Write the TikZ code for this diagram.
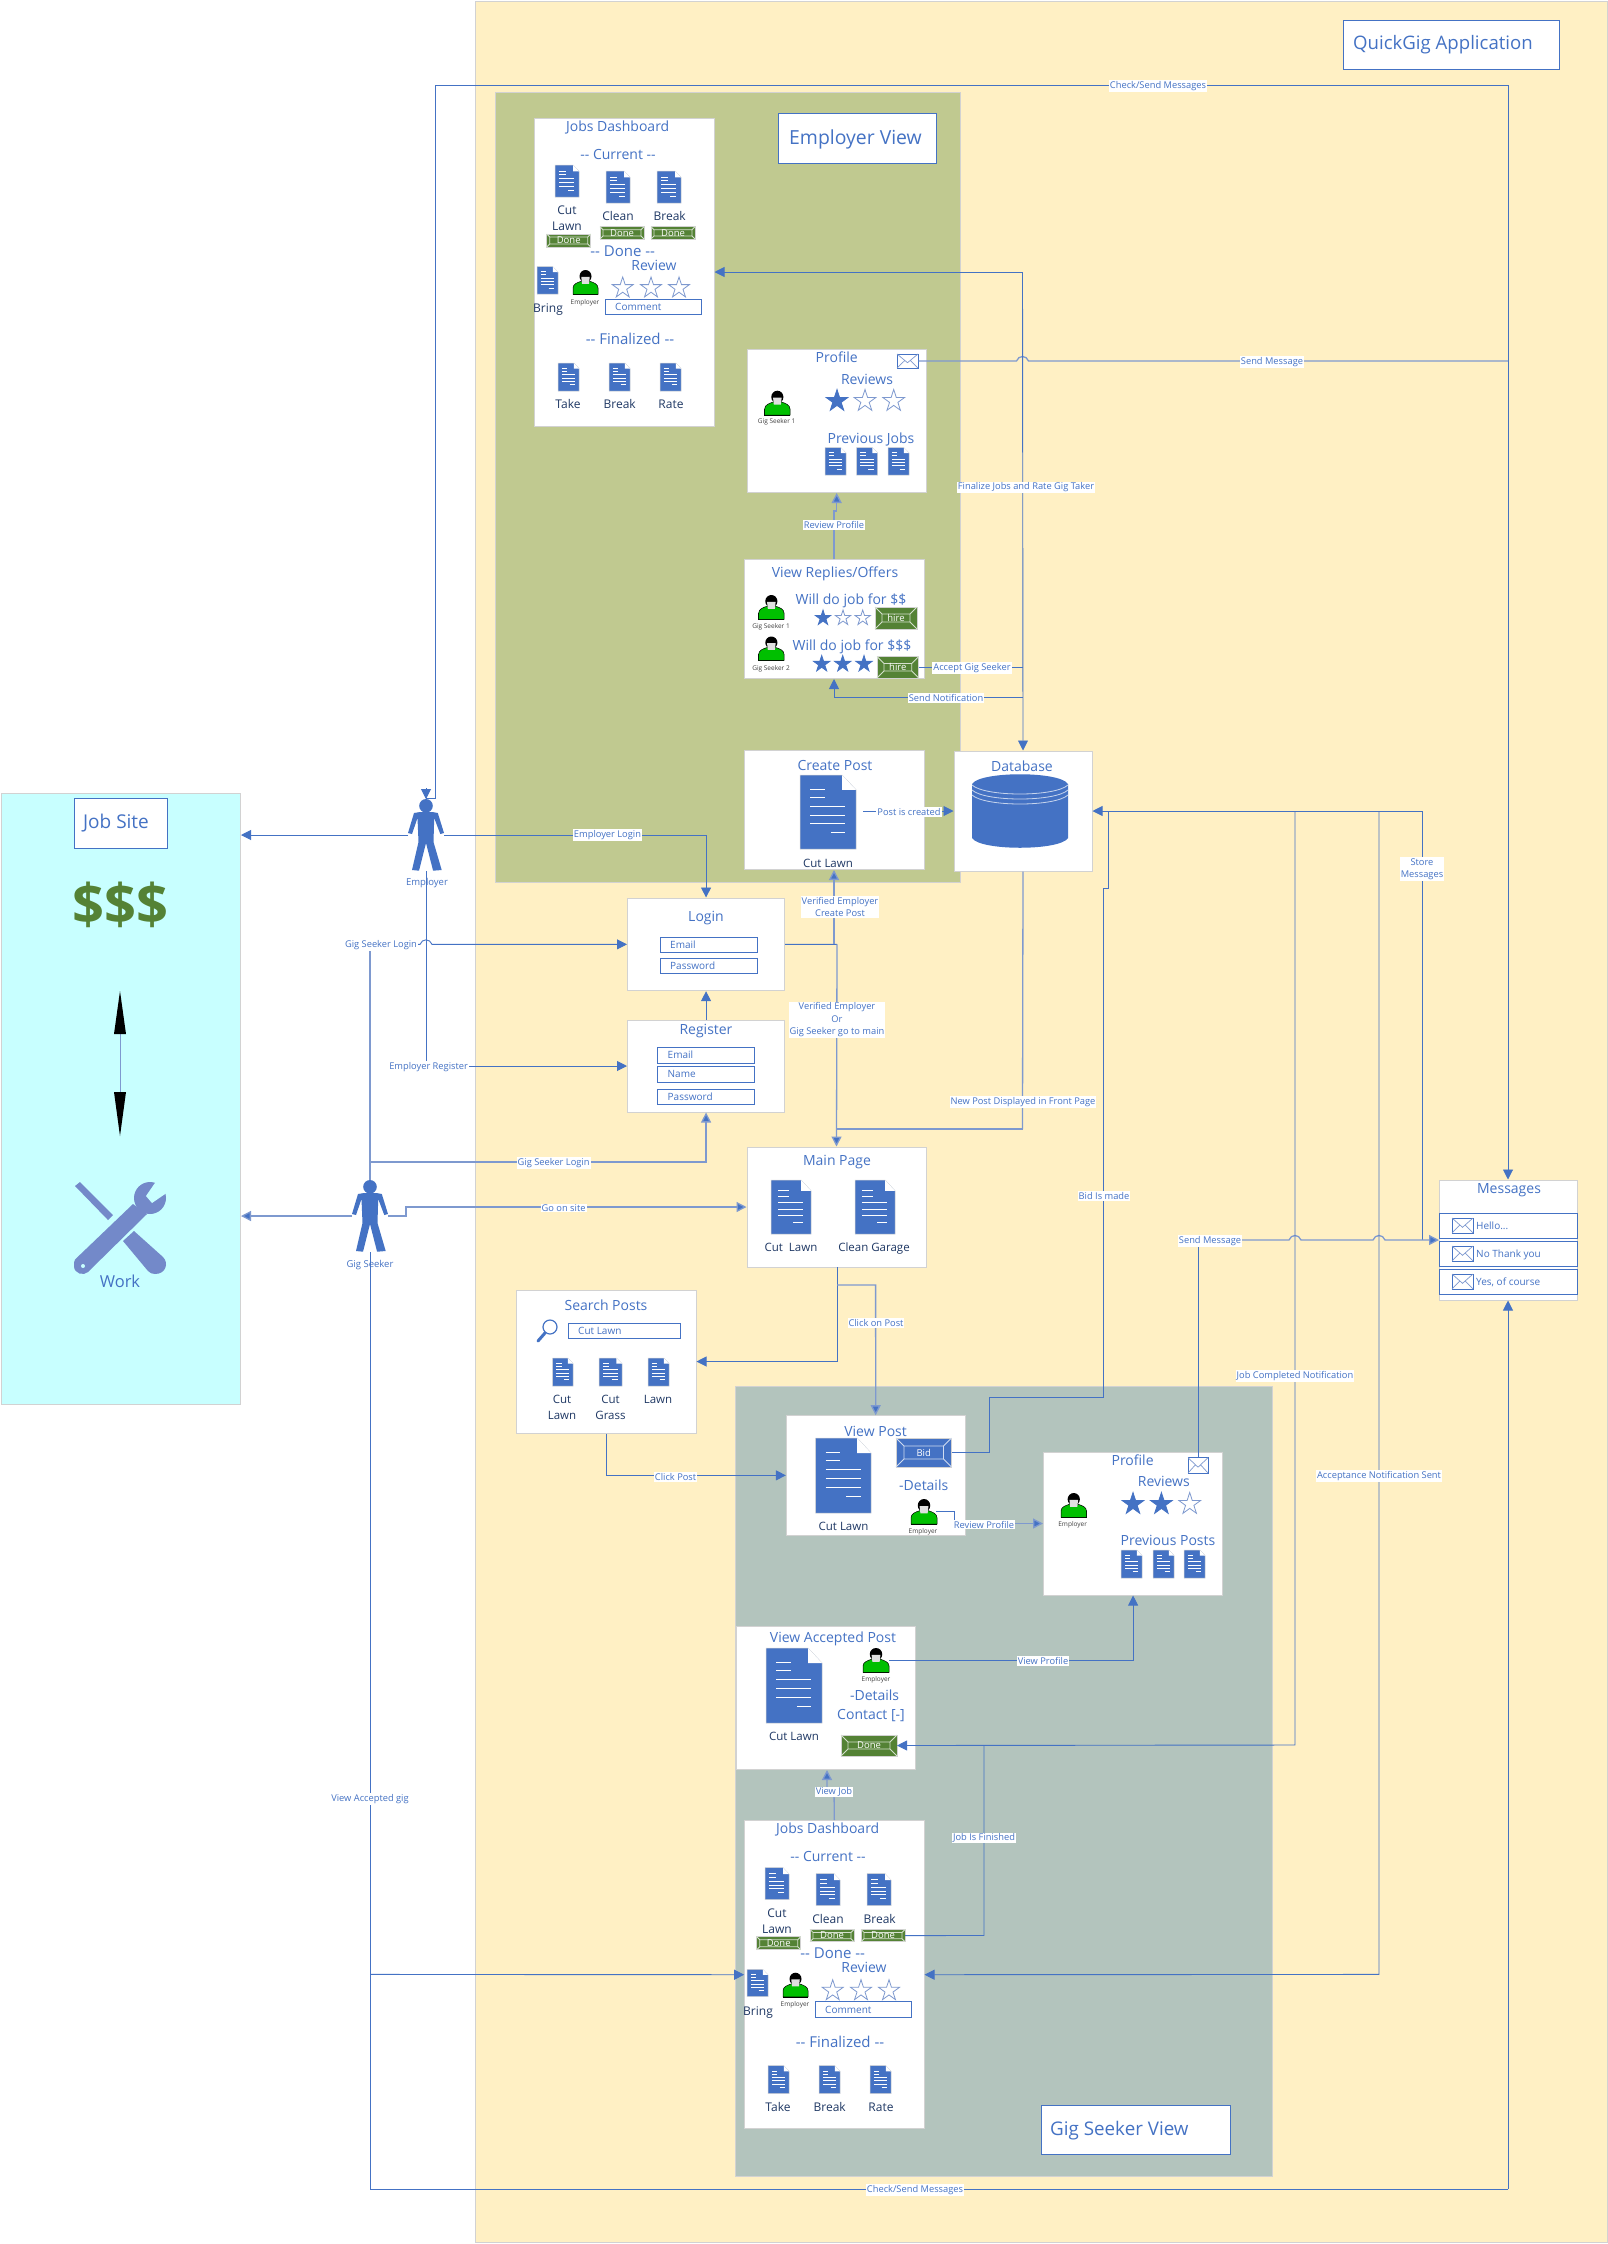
\documentclass[tikz,border=0pt]{standalone}
\usepackage{fontspec}
\setmainfont{Open Sans}
\usetikzlibrary{arrows.meta}
\definecolor{bl}{HTML}{4472C4}
\definecolor{bll}{HTML}{7E99CF}
\definecolor{navy}{HTML}{1F3864}
\definecolor{appbg}{HTML}{FFF0C4}
\definecolor{empbg}{HTML}{C0C990}
\definecolor{gigbg}{HTML}{B3C4BD}
\definecolor{sitebg}{HTML}{C8FFFF}
\definecolor{grn}{HTML}{548235}
\definecolor{wr}{HTML}{7389C9}
\definecolor{edge}{HTML}{D2D2D2}
\tikzset{
  panelbox/.style={draw=edge,fill=white,line width=1pt,inner sep=0pt},
  areabox/.style={draw=edge,line width=1pt,inner sep=0pt},
  titlebox/.style={draw=bl,fill=white,line width=1pt,inner sep=0pt},
  fieldbox/.style={draw=bl,fill=white,line width=.9pt,inner sep=0pt},
  ghost/.style={inner sep=0pt,outer sep=0pt},
  conn/.style={draw=bl,line width=.9pt},
  connl/.style={draw=bll,line width=1.3pt},
  tip/.style={-{Triangle[length=10pt,width=10pt,fill=bl]}},
  arr/.style={conn,tip},
  arrl/.style={connl,tip},
  lab/.style={fill=white,text=bl,inner sep=1pt,align=center,yshift=-1pt,font=\fontsize{9.3}{12.5}\selectfont},
  ttext/.style={text=bl,inner sep=0pt,align=center},
}
\newcounter{tn}
\newcommand\Txt[5][]{\stepcounter{tn}\node[ttext,anchor=base,#1] (t\arabic{tn}) at (#2,{#3+.36*#4}) {\fontsize{#4}{#4}\selectfont #5};}
\newcommand\Lab[3]{\stepcounter{tn}\node[lab] (t\arabic{tn}) at (#1,#2) {#3};}
% rectangle node from corners: style, name, x1,y1,x2,y2
\newcommand\Pnl[6]{\node[#1,minimum width={(#5-#3)*1pt},minimum height={(#6-#4)*1pt}] (#2) at ({(#3+#5)/2},{(#4+#6)/2}) {};}
% document icon
\newcommand\Doc[4]{\begin{scope}[shift={(#1,#2)},xscale={#3-#1},yscale={#4-#2}]
  \fill[bl,draw=edge,line width=.5pt] (0,0) -- (.75,0) -- (1,.2) -- (1,1) -- (0,1) -- cycle;
  \fill[white] (.75,0) -- (1,.2) -- (.75,.2) -- cycle;
  \draw[white,line width=.8pt] (.18,.19) -- (.44,.19) (.18,.30) -- (.44,.30) (.18,.42) -- (.81,.42) (.18,.54) -- (.81,.54) (.18,.66) -- (.81,.66) (.55,.78) -- (.81,.78);
\end{scope}}
% green person icon
\newcommand\Person[4]{\begin{scope}[shift={(#1,#2)},xscale={#3-#1},yscale={#4-#2}]
  \fill[black] (-.01,.72) rectangle (1.01,1);
  \fill[green!75!black,draw=black,line width=.5pt] (0,.97) -- (0,.72) .. controls (0,.56) and (.18,.5) .. (.33,.45) -- (.67,.45) .. controls (.82,.5) and (1,.56) .. (1,.72) -- (1,.97) -- cycle;
  \fill[black] (.5,.25) ellipse[x radius=.24,y radius=.25];
  \fill[gray!25] (.33,.27) -- (.67,.27) -- (.64,.55) -- (.36,.55) -- cycle;
\end{scope}}
% star: cx cy r style
\newcommand\Star[4]{\begin{scope}[shift={(#1,#2)},scale=#3]
  \draw[line width=.8pt,#4] (0,-1) -- (.225,-.309) -- (.951,-.309) -- (.363,.118) -- (.588,.809) -- (0,.382) -- (-.588,.809) -- (-.363,.118) -- (-.951,-.309) -- (-.225,-.309) -- cycle;
\end{scope}}
\tikzset{sf/.style={draw=bl,fill=bl},se/.style={draw=bll,fill=white}}
% button: name x1 y1 x2 y2 fill text size inset
\newcommand\Btn[9]{\fill[#6,draw=edge,line width=.8pt] (#2,#3) rectangle (#4,#5);
  \draw[white!75!#6,line width=.8pt] ({#2+#9},{#3+#9}) rectangle ({#4-#9},{#5-#9})
   (#2,#3) -- ({#2+#9},{#3+#9}) (#4,#3) -- ({#4-#9},{#3+#9}) (#2,#5) -- ({#2+#9},{#5-#9}) (#4,#5) -- ({#4-#9},{#5-#9});
  \node[ghost,text=white,minimum width={(#4-#2)*1pt},minimum height={(#5-#3)*1pt}] (#1) at ({(#2+#4)/2},{(#3+#5)/2}) {\fontsize{#8}{#8}\selectfont #7};}
% envelope: name x1 y1 x2 y2
\newcommand\Env[5]{\node[draw=bl,fill=white,line width=1pt,inner sep=0pt,minimum width={(#4-#2)*1pt},minimum height={(#5-#3)*1pt}] (#1) at ({(#2+#4)/2},{(#3+#5)/2}) {};
  \draw[bll,line width=.7pt] (#2,#3) -- ({(#2+#4)/2},{#3+.62*(#5-#3)}) -- (#4,#3) (#2,#5) -- ({#2+.38*(#4-#2)},{#3+.45*(#5-#3)}) (#4,#5) -- ({#4-.38*(#4-#2)},{#3+.45*(#5-#3)});}
% actor: name cx top
\newcommand\Actor[3]{\node[ghost,minimum width=36pt,minimum height=72pt] (#1) at (#2,{#3+36}) {};
  \begin{scope}[shift={(#2,#3)}]
  \fill[bl] (0,6.8) circle[radius=6.8pt];
  \fill[bl] (-12,14) -- (-6,13) -- (6.4,13) -- (11.8,14) -- (18,34) -- (14.3,35) -- (8.2,19) -- (7.5,43) -- (15.7,71) -- (7.1,71.7) -- (0,44) -- (-7,71.7) -- (-14,71) -- (-7.5,43) -- (-8.5,19) -- (-14,35) -- (-18,34) -- cycle;
  \end{scope}}
% line jump bump
\newcommand\hj[2]{-- ({#1-6},#2) .. controls ({#1-4},{#2-6}) and ({#1+4},{#2-6}) .. ({#1+6},#2)}
% jobs dashboard in employer coordinates
\newcommand\Dash[1]{
  \Pnl{panelbox}{#1dash}{534.7}{118}{714}{426}
  \Txt{617.7}{126}{14}{Jobs Dashboard}
  \Txt{618}{154}{14}{-{}- Current -{}-}
  \Doc{555}{165}{579}{197}\Doc{606}{171}{630}{203}\Doc{657}{171}{681}{203}
  \Txt[text=navy]{567}{210}{12}{Cut}\Txt[text=navy]{567}{226}{12}{Lawn}
  \Txt[text=navy]{618}{216}{12}{Clean}\Txt[text=navy]{669.7}{216}{12}{Break}
  \Btn{#1done1}{546.7}{234}{590.7}{247}{grn}{Done}{9.5}{3}
  \Btn{#1done2}{600}{226.7}{644}{239}{grn}{Done}{9.5}{3}
  \Btn{#1done3}{651}{226.7}{695}{239}{grn}{Done}{9.5}{3}
  \Txt{622.7}{250.7}{15}{-{}- Done -{}-}
  \Txt{654}{265}{14}{Review}
  \Doc{537}{266.7}{558}{294}
  \Txt[text=navy]{548}{308}{12}{Bring}
  \Person{573}{270}{598}{295}
  \Txt[text=black!75]{585}{301.7}{6.5}{Employer}
  \Star{622.7}{288}{11}{se}\Star{651}{288}{11}{se}\Star{679}{288}{11}{se}
  \Pnl{fieldbox}{#1comment}{605}{299}{701.7}{314.7}
  \Txt[anchor=base west]{615}{306.8}{10}{Comment}
  \Txt{630}{339}{15}{-{}- Finalized -{}-}
  \Doc{558}{363}{579}{391}\Doc{609}{363}{630}{391}\Doc{660}{363}{681}{391}
  \Txt[text=navy]{568}{404}{12}{Take}\Txt[text=navy]{619.7}{404}{12}{Break}\Txt[text=navy]{671}{404}{12}{Rate}
}
\begin{document}
\begin{tikzpicture}[x=1pt,y=-1pt]
\useasboundingbox (0,0) rectangle (1608,2244);
\fill[white] (0,0) rectangle (1608,2244);
% areas
\Pnl{areabox,fill=appbg}{app}{475}{1}{1607}{2242}
\Pnl{areabox,fill=empbg}{emparea}{495}{92}{960}{882}
\Pnl{areabox,fill=gigbg}{gigarea}{735}{1386}{1272}{2176}
\Pnl{areabox,fill=sitebg}{jobsite}{1}{793}{240.5}{1404}
% title boxes
\Pnl{titlebox}{quick}{1343}{20}{1559}{69}
\Txt[anchor=base west]{1353}{43}{18.6}{QuickGig Application}
\Pnl{titlebox}{empview}{778}{113}{936}{163}
\Txt[anchor=base west]{789}{138}{19.4}{Employer View}
\Pnl{titlebox}{gigview}{1041}{2105}{1230}{2154}
\Txt[anchor=base west]{1050}{2129}{18.8}{Gig Seeker View}
\Pnl{titlebox}{sitetitle}{74}{798}{167}{848}
\Txt{116}{822}{19}{Job Site}
% job site content
\Txt[text=grn,font=\bfseries]{120}{904}{56}{\$\$\$}
\draw[bll,line width=1pt] (120,1034) -- (120,1092);
\fill[black] (120,991) -- (126,1034) -- (114,1034) -- cycle;
\fill[black] (120,1136) -- (126,1092) -- (114,1092) -- cycle;
% tools
\fill[wr] (75,1186) -- (80,1182) -- (113,1215) -- (108,1220) -- cycle;
\fill[wr] (134,1231) -- (163,1257) .. controls (169,1263) and (166,1274) .. (155,1274) .. controls (152,1274) and (150,1273) .. (148,1271) -- (123,1241) -- cycle;
\fill[wr] (75,1259.5) -- (133,1204) -- (147,1214) -- (88,1272) .. controls (84,1276) and (74,1274) .. (74,1266) .. controls (74,1263) and (74,1261) .. (75,1259.5) -- cycle;
\fill[wr] (150,1198) circle[radius=16pt];
\fill[sitebg] (157,1180) -- (146,1196) -- (152,1203) -- (168,1192) -- (170,1178) -- cycle;
\fill[sitebg] (83,1266) circle[radius=2pt];
\Txt{120}{1282}{16.5}{Work}
% panels
\Dash{e}
\begin{scope}[shift={(210,1702.7)}]
\Dash{g}
\end{scope}
% Employer profile
\Pnl{panelbox}{eprofile}{747.7}{349}{926.7}{492}
\Txt{836.7}{357}{14}{Profile}
\Env{eenv}{897}{354}{918}{368}
\Txt{867}{379}{14}{Reviews}
\Star{837}{401}{11.5}{sf}\Star{865}{401}{11.5}{se}\Star{893.7}{401}{11.5}{se}
\Person{764.7}{390.7}{790}{416}
\Txt[text=black!75]{776.7}{421}{6.5}{Gig Seeker 1}
\Txt{871}{438}{14}{Previous Jobs}
\Doc{825}{447.6}{846}{475}\Doc{856.7}{447.6}{877.7}{475}\Doc{888}{447.6}{909}{475}
% View replies
\Pnl{panelbox}{replies}{744}{559}{924}{678}
\Txt{835}{572}{14}{View Replies/Offers}
\Txt{851}{599}{14}{Will do job for \$\$}
\Person{758.7}{595}{784}{620}
\Txt[text=black!75]{771}{626}{6.5}{Gig Seeker 1}
\Star{823}{618}{8}{sf}\Star{843}{618}{8}{se}\Star{862.7}{618}{8}{se}
\Btn{hire1}{875}{607}{917}{629}{grn}{hire}{9.5}{7}
\Txt{852}{645}{14}{Will do job for \$\$\$}
\Person{758.7}{636.5}{784}{661}
\Txt[text=black!75]{771}{668}{6.5}{Gig Seeker 2}
\Star{821.7}{664}{8.5}{sf}\Star{842.7}{664}{8.5}{sf}\Star{864}{664}{8.5}{sf}
\Btn{hire2}{877}{656.5}{918.7}{678}{grn}{hire}{9.5}{7}
% Create post
\Pnl{panelbox}{create}{744}{750}{924}{869}
\Txt{835}{765}{14}{Create Post}
\Doc{800}{775}{856}{849}
\Txt[text=navy]{828}{863}{11.5}{Cut Lawn}
% Database
\Pnl{panelbox}{db}{954}{751}{1092}{871}
\Txt{1022}{766}{14}{Database}
\fill[bl] (972,784) .. controls (980,771) and (1060,771) .. (1068,784) -- (1068,838) .. controls (1060,851) and (980,851) .. (972,838) -- cycle;
\draw[white!70!bl,line width=.8pt] (972,785) .. controls (985,797) and (1055,797) .. (1068,785) (972,790) .. controls (985,802) and (1055,802) .. (1068,790) (972,795) .. controls (985,807) and (1055,807) .. (1068,795);
% Login / Register
\Pnl{panelbox}{login}{627.5}{898}{784.6}{990.7}
\Txt{706}{916}{14}{Login}
\Pnl{fieldbox}{lemail}{660}{937}{757}{952}
\Txt[anchor=base west]{670}{944.5}{10}{Email}
\Pnl{fieldbox}{lpass}{660}{958}{757}{973}
\Txt[anchor=base west]{670}{965.5}{10}{Password}
\Pnl{panelbox}{register}{627.5}{1020}{784.6}{1112}
\Txt{706}{1029}{14}{Register}
\Pnl{fieldbox}{remail}{657.5}{1047}{754}{1063}
\Txt[anchor=base west]{667.5}{1055}{10}{Email}
\Pnl{fieldbox}{rname}{657.5}{1066}{754}{1082}
\Txt[anchor=base west]{667.5}{1074}{10}{Name}
\Pnl{fieldbox}{rpass}{657.5}{1089}{754}{1104}
\Txt[anchor=base west]{667.5}{1096.5}{10}{Password}
% Main Page
\Pnl{panelbox}{main}{747}{1147}{926}{1267}
\Txt{837}{1160}{14}{Main Page}
\Doc{771}{1180}{811}{1234}\Doc{855}{1180}{895}{1234}
\Txt[text=navy]{791}{1247}{11.5}{Cut\ \ Lawn}
\Txt[text=navy]{874}{1247}{11.5}{Clean Garage}
% Search
\Pnl{panelbox}{search}{516.6}{1290}{696}{1433}
\Txt{606}{1305}{14}{Search Posts}
\draw[bl,line width=1.2pt] (550,1327) circle[radius=7pt];
\draw[bl,line width=3pt,line cap=round] (545,1333) -- (538,1341);
\Pnl{fieldbox}{sfield}{568.5}{1323}{680}{1338}
\Txt[anchor=base west]{578}{1330.5}{10}{Cut Lawn}
\Doc{552.5}{1358}{573}{1386}\Doc{599}{1358}{622}{1386}\Doc{648}{1358}{669}{1386}
\Txt[text=navy]{562}{1399}{11.5}{Cut}\Txt[text=navy]{562}{1415}{11.5}{Lawn}
\Txt[text=navy]{610.5}{1399}{11.5}{Cut}\Txt[text=navy]{610.5}{1415}{11.5}{Grass}
\Txt[text=navy]{658}{1399}{11.5}{Lawn}
% View Post
\Pnl{panelbox}{viewpost}{786.4}{1415.7}{965}{1535}
\Txt{875.6}{1431}{14}{View Post}
\Doc{815.7}{1438}{871}{1513}
\Txt[text=navy]{843.5}{1526}{11.5}{Cut Lawn}
\Btn{bid}{896}{1438}{951.5}{1467}{bl}{Bid}{9.5}{8}
\Txt{923.7}{1485}{14}{-Details}
\Person{911}{1499}{937}{1525}
\Txt[text=black!75]{923}{1530.7}{6.5}{Employer}
% Gig profile
\Pnl{panelbox}{gprofile}{1043.5}{1452}{1222.7}{1595}
\Txt{1132.6}{1460}{14}{Profile}
\Env{genv}{1188}{1457.7}{1208}{1473}
\Txt{1163.8}{1481}{14}{Reviews}
\Star{1133}{1504}{11.5}{sf}\Star{1161.4}{1504}{11.5}{sf}\Star{1189.7}{1504}{11.5}{se}
\Person{1061}{1493}{1086.5}{1518}
\Txt[text=black!75]{1072.7}{1524}{6.5}{Employer}
\Txt{1168}{1540}{14}{Previous Posts}
\Doc{1121}{1550}{1142}{1578}\Doc{1153}{1550}{1174}{1578}\Doc{1184}{1550}{1205}{1578}
% View accepted
\Pnl{panelbox}{accepted}{736.4}{1626}{915.7}{1769}
\Txt{833}{1637}{14}{View Accepted Post}
\Doc{766}{1648}{822}{1723}
\Txt[text=navy]{794}{1736}{11.5}{Cut Lawn}
\Person{863}{1648}{889}{1673}
\Txt[text=black!75]{876}{1679}{6.5}{Employer}
\Txt{874.6}{1695}{14}{-Details}
\Txt{871}{1714}{14}{Contact [-]}
\Btn{gdone}{841}{1735}{897}{1756}{grn}{Done}{9.5}{7}
% Messages
\Pnl{panelbox}{msgs}{1439}{1180}{1577}{1300}
\Txt{1509}{1188}{14}{Messages}
\Pnl{fieldbox}{row1}{1439}{1213}{1577}{1238}
\Pnl{fieldbox}{row2}{1439}{1241}{1577}{1266}
\Pnl{fieldbox}{row3}{1439}{1269}{1577}{1294}
\Env{m1}{1452}{1218}{1473}{1233}\Txt[anchor=base west]{1476}{1225.5}{10}{Hello...}
\Env{m2}{1452}{1246}{1473}{1261}\Txt[anchor=base west]{1476}{1253.5}{10}{No Thank you}
\Env{m3}{1452}{1274}{1473}{1289}\Txt[anchor=base west]{1476}{1281.5}{10}{Yes, of course}
% Actors
\Actor{employer}{426}{799}
\Txt{427}{882}{9.5}{Employer}
\Actor{gigseeker}{370}{1180}
\Txt{370}{1263.6}{9.5}{Gig Seeker}
% junction coordinates
\coordinate (topR) at (1508,85);
\coordinate (botY) at (370,2189);
\coordinate (dbJ) at (1022.5,272);
\coordinate (msgIn) at (1439,1240);
\coordinate (postOut) at (863,811);
% connectors
\draw[conn] (topR) -- (435,85) -- (435,798) -- (426,798);
\draw[arr] (426,788) -- (employer.north);
\draw[arr] (topR) -- (msgs.north);
\draw[connl] (eenv.east) \hj{1022.5}{361} -- (1508,361);
\draw[arr] (dbJ) -- (edash.east);
\draw[arr] (dbJ) -- (db.north);
\draw[conn] (hire2.east) -- (1022.5,667.25);
\draw[arr] (1022.5,697) -- (834,697) -- (834,679);
\draw[connl,tip] (834,559) -- (834,511) -- (836.7,511) -- (836.7,493);
\draw[arr] (postOut) -- (db.west);
\draw[arr] (employer.west) -- (jobsite.east |- employer.west);
\draw[arr] (employer.east) -| (login.north);
\draw[conn] (employer.south) -- (426,1066);
\draw[arr] (426,1066) -- (register.west);
\draw[connl] (gigseeker.north) -- (370,944.35);
\draw[arr] (370,944.35) \hj{426}{944.35} -- (login.west);
\draw[connl,tip] (370,1162) -| (register.south);
\draw[arr] (register.north) -- (login.south);
\draw[connl,tip] (gigseeker.west) -- (jobsite.east |- gigseeker.west);
\draw[connl,tip] (gigseeker.east) -- (406,1216) -- (406,1207) -- (main.west);
\draw[conn] (login.east) -- (837,944.35);
\draw[connl,tip] (837,944.35) -- (main.north);
\draw[connl,tip] (834,944.35) -- (834,870);
\draw[connl] (db.south) -- (1022.5,1129);
\draw[connl] (1022.5,1129) -- (837,1129);
\draw[conn] (837,1267) -- (837,1285);
\draw[arr] (837,1285) -- (837,1361.5) -- (search.east);
\draw[connl,tip] (837,1285) -- (875.6,1285) -- (viewpost.north);
\draw[arr] (search.south) |- (viewpost.west);
% right hand
\draw[arr] (1108,811) -- (db.east);
\draw[conn] (1108,811) -- (1422,811) -- (1422,1240);
\draw[conn] (bid.east) -- (989,1452.5) -- (989,1397) -- (1103,1397) -- (1103,888) -- (1108,888) -- (1108,811);
\draw[conn] (genv.north) -- (1198,1240);
\draw[connl,tip] (1198,1240) \hj{1295}{1240} \hj{1379}{1240} -- (msgIn);
\draw[arr] (1295,811) -- (1295,1745) -- (gdone.east);
\draw[arr] (1379,811) -- (1379,1974.4) -- (gdash.east);
\draw[conn] (gdone3.east) -- (984,1935.5) -- (984,1745);
\draw[conn] (936,1511.7) -- (954,1511.7) -- (954,1523.5);
\draw[connl,tip] (954,1523.5) -- (gprofile.west);
\draw[arr] (889,1660) -| (gprofile.south);
\draw[connl,tip] (gdash.north) -- (834,1790) -- (827,1790) -- (827,1770);
\draw[conn] (gigseeker.south) -- (botY) -- (1508,2189);
\draw[arr] (1508,2189) -- (msgs.south);
\draw[arr] (370,1974.4) -- (gdash.west);
% labels
\Lab{1158}{85}{Check/Send Messages}
\Lab{915}{2189}{Check/Send Messages}
\Lab{1272}{361}{Send Message}
\Lab{1210}{1240}{Send Message}
\Lab{1026}{486.5}{Finalize Jobs and Rate Gig Taker}
\Lab{834}{524}{Review Profile}
\Lab{984}{1523.7}{Review Profile}
\Lab{972}{667}{Accept Gig Seeker}
\Lab{946}{697}{Send Notification}
\Lab{909}{811}{Post is created}
\Lab{607.5}{834}{Employer Login}
\Lab{840}{906}{Verified Employer\\Create Post}
\Lab{837}{1019}{Verified Employer\\Or\\Gig Seeker go to main}
\Lab{381}{944}{Gig Seeker Login}
\Lab{553.6}{1162}{Gig Seeker Login}
\Lab{428.6}{1066}{Employer Register}
\Lab{563.6}{1207}{Go on site}
\Lab{1023}{1101}{New Post Displayed in Front Page}
\Lab{1422}{868}{Store\\Messages}
\Lab{1104}{1195}{Bid Is made}
\Lab{1295}{1375}{Job Completed Notification}
\Lab{1379}{1475}{Acceptance Notification Sent}
\Lab{876}{1322}{Click on Post}
\Lab{675.6}{1476}{Click Post}
\Lab{1043}{1660}{View Profile}
\Lab{834}{1791}{View Job}
\Lab{984}{1837}{Job Is Finished}
\Lab{370}{1798}{View Accepted gig}
\end{tikzpicture}
\end{document}
